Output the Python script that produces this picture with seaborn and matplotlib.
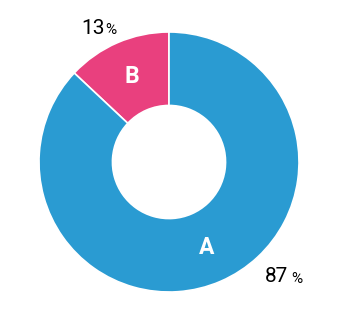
import matplotlib
matplotlib.use("Agg")
import matplotlib.pyplot as plt
import seaborn as sns

categories = ["B", "A"]
values = [13, 87]
pct_labels = ["13", "87"]
colors = ["#E9407E", "#2A9BD2"]

sns.set_theme(style="white")
plt.rcParams["font.family"] = ["Roboto", "DejaVu Sans"]

W, H = 340, 315
fig = plt.figure(figsize=(W / 100, H / 100), dpi=100)
cx, cy, R = 169, 162, 130
ax = fig.add_axes([(cx - R) / W, (H - cy - R) / H, 2 * R / W, 2 * R / H])

wedges, texts = ax.pie(
    values, labels=categories, colors=sns.color_palette(colors),
    startangle=90, counterclock=True, radius=1.0,
    labeldistance=0.72,
    wedgeprops=dict(width=0.565, edgecolor="white", linewidth=1.2),
    textprops=dict(color="white", fontsize=16.5, fontweight="bold",
                   ha="center", va="center"),
)
ax.set_xlim(-1, 1)
ax.set_ylim(-1, 1)
ax.axis("off")

def px(x, y):
    return ((x - cx) / R, (cy - y) / R)

# outside percentage labels
x, y = px(105, 28)
ax.text(x, y, pct_labels[0], ha="right", va="center", fontsize=15, color="black")
ax.text(x + 0.005, y - 0.012, "%", ha="left", va="center", fontsize=11, color="black")
x, y = px(288, 277)
ax.text(x, y, pct_labels[1], ha="right", va="center", fontsize=15, color="black")
ax.text(x + 0.025, y - 0.012, "%", ha="left", va="center", fontsize=11, color="black")

fig.savefig("out.png", dpi=100)
